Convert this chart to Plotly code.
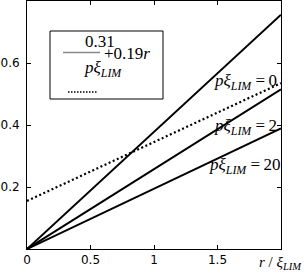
import plotly.graph_objects as go

# data
r = [0, 2]
y_p0 = [0, 0.756]
y_p2 = [0, 0.515]
y_p20 = [0, 0.389]
y_fit = [0.155, 0.535]

x_ticks = [0, 0.5, 1, 1.5]
x_ticktext = ["0", "0.5", "1", "1.5"]
y_ticks = [0.2, 0.4, 0.6]
y_ticktext = ["0.2", "0.4", "0.6"]

curve_labels = ["0", "2", "20"]
label_pos = [(1.46, 0.539), (1.46, 0.394), (1.42, 0.268)]

W, H = 304, 273
L, R, T, B = 27, 23, 1, 24

fig = go.Figure()
for yy in (y_p0, y_p2, y_p20):
    fig.add_trace(go.Scatter(x=r, y=yy, mode="lines",
                             line=dict(color="black", width=2), showlegend=False))
fig.add_trace(go.Scatter(x=r, y=y_fit, mode="lines",
                         line=dict(color="black", width=2.2, dash="2px,2.5px"), showlegend=False))

serif = "Liberation Serif"
for lab, (xx, yy) in zip(curve_labels, label_pos):
    fig.add_annotation(x=xx, y=yy, xref="x", yref="y", showarrow=False,
                       xanchor="left", yanchor="middle",
                       text=f"<i>pξ<sub>LIM</sub></i> =\u2009{lab}",
                       font=dict(family=serif, size=17, color="black"))

def px(xp):
    return (xp - L) / (W - L - R)

def py(yp):
    return (H - B - yp) / (H - B - T)

# legend box
fig.add_shape(type="rect", xref="paper", yref="paper",
              x0=px(50), x1=px(163), y0=py(99), y1=py(31),
              line=dict(color="black", width=1), fillcolor="white", layer="above")
fig.add_annotation(xref="paper", yref="paper", x=px(83), y=py(42), showarrow=False,
                   yanchor="middle", text="0.31", font=dict(family=serif, size=17, color="black"))
fig.add_shape(type="line", xref="paper", yref="paper",
              x0=px(63), x1=px(100), y0=py(52.5), y1=py(52.5),
              line=dict(color="#888888", width=1.5), layer="above")
fig.add_annotation(xref="paper", yref="paper", x=px(82), y=py(69), showarrow=False,
                   yanchor="middle", text="<i>pξ<sub>LIM</sub></i>",
                   font=dict(family=serif, size=17, color="black"))
fig.add_annotation(xref="paper", yref="paper", x=px(102), y=py(53), showarrow=False,
                   xanchor="left", yanchor="middle", text="+0.19<i>r</i>",
                   font=dict(family=serif, size=17, color="black"))
fig.add_shape(type="line", xref="paper", yref="paper",
              x0=px(68), x1=px(97), y0=py(92), y1=py(92),
              line=dict(color="black", width=1.5, dash="1.5px,1.5px"), layer="above")

# x axis title
fig.add_annotation(xref="paper", yref="paper", x=px(304), y=py(263), showarrow=False,
                   xanchor="right", yanchor="middle", text="<i>r</i> / <i>ξ<sub>LIM</sub></i>",
                   font=dict(family=serif, size=15, color="black"))

axis_common = dict(showgrid=False, zeroline=False, showline=True, linecolor="black",
                   linewidth=1, mirror="ticks", ticks="inside", ticklen=4, automargin=False,
                   tickcolor="black", tickfont=dict(family="DejaVu Sans", size=12, color="black"))
fig.update_xaxes(range=[0, 2], tickvals=x_ticks, ticktext=x_ticktext, **axis_common)
fig.update_yaxes(range=[0, 0.8], tickvals=y_ticks, ticktext=y_ticktext,
                 ticklabelstandoff=4, **axis_common)

fig.update_layout(width=W, height=H, margin=dict(l=L, r=R, t=T, b=B, autoexpand=False),
                  plot_bgcolor="white", paper_bgcolor="white", showlegend=False)
fig.write_html("out.html", config={"displayModeBar": False},
               post_script="document.body.style.margin='0';document.body.style.overflow='hidden';")
